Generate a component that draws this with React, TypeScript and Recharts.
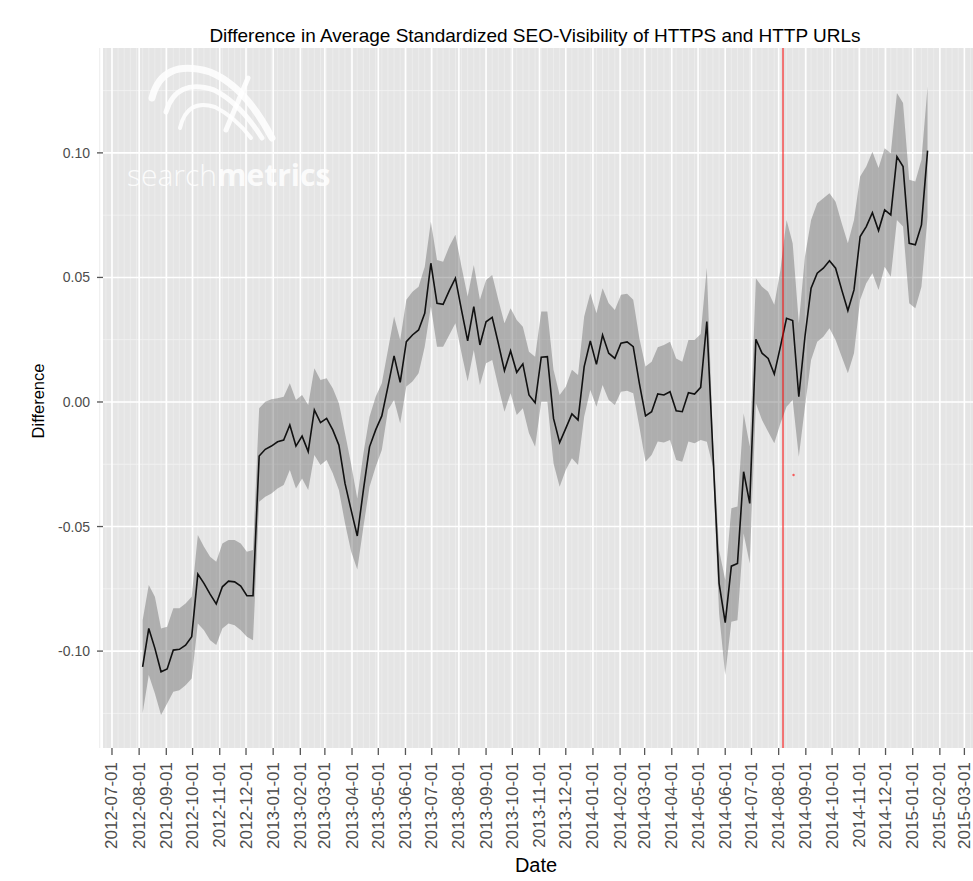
import React from 'react';
import { ComposedChart, Area, Line, XAxis, YAxis, CartesianGrid, ReferenceLine, ReferenceDot } from 'recharts';

// ---- data ----
const FIRST_WEEK = '2012-08-05';
const ANNOUNCEMENT = '2014-08-06';
const STRAY_DOT = { date: '2014-08-18', value: -0.0293 };

const MEAN = [
  -0.1063, -0.0909, -0.0989, -0.1083, -0.1072, -0.0996, -0.0993, -0.0976, -0.0942, -0.0691,
  -0.0728, -0.0771, -0.0811, -0.0742, -0.0719, -0.0722, -0.0739, -0.0778, -0.0778, -0.0217,
  -0.0190, -0.0177, -0.0160, -0.0153, -0.0092, -0.0177, -0.0137, -0.0199, -0.0032, -0.0083,
  -0.0066, -0.0112, -0.0173, -0.0327, -0.0434, -0.0538, -0.0353, -0.0180, -0.0112, -0.0056,
  0.0062, 0.0185, 0.0079, 0.0242, 0.0269, 0.0289, 0.0356, 0.0557, 0.0396, 0.0392,
  0.0447, 0.0497, 0.0369, 0.0245, 0.0383, 0.0229, 0.0322, 0.0340, 0.0236, 0.0126,
  0.0205, 0.0119, 0.0153, 0.0028, -0.0003, 0.0180, 0.0182, -0.0066, -0.0163, -0.0106,
  -0.0048, -0.0072, 0.0142, 0.0245, 0.0151, 0.0269, 0.0196, 0.0175, 0.0236, 0.0241,
  0.0222, 0.0075, -0.0056, -0.0039, 0.0032, 0.0028, 0.0041, -0.0035, -0.0039, 0.0037,
  0.0032, 0.0059, 0.0323, -0.0206, -0.0728, -0.0886, -0.0659, -0.0648, -0.0280, -0.0407,
  0.0252, 0.0196, 0.0175, 0.0112, 0.0222, 0.0336, 0.0327, 0.0021, 0.0262, 0.0457,
  0.0517, 0.0537, 0.0567, 0.0537, 0.0450, 0.0367, 0.0450, 0.0664, 0.0704, 0.0760,
  0.0688, 0.0771, 0.0751, 0.0985, 0.0945, 0.0637, 0.0631, 0.0711, 0.1009,
];
const UPPER = [
  -0.0876, -0.0735, -0.0782, -0.0909, -0.0902, -0.0828, -0.0828, -0.0809, -0.0782, -0.0534,
  -0.0581, -0.0621, -0.0641, -0.0568, -0.0554, -0.0554, -0.0568, -0.0601, -0.0594, -0.0025,
  0.0001, 0.0011, 0.0015, 0.0021, 0.0075, 0.0008, 0.0028, -0.0012, 0.0135, 0.0088,
  0.0095, 0.0055, -0.0005, -0.0125, -0.0250, -0.0387, -0.0206, -0.0059, 0.0021, 0.0075,
  0.0209, 0.0343, 0.0249, 0.0410, 0.0443, 0.0463, 0.0543, 0.0724, 0.0570, 0.0563,
  0.0624, 0.0671, 0.0543, 0.0423, 0.0550, 0.0410, 0.0490, 0.0510, 0.0410, 0.0316,
  0.0376, 0.0329, 0.0302, 0.0202, 0.0182, 0.0363, 0.0363, 0.0129, 0.0028, 0.0061,
  0.0129, 0.0108, 0.0343, 0.0436, 0.0356, 0.0457, 0.0396, 0.0369, 0.0430, 0.0434,
  0.0410, 0.0256, 0.0142, 0.0162, 0.0220, 0.0229, 0.0242, 0.0175, 0.0162, 0.0249,
  0.0249, 0.0273, 0.0540, -0.0150, -0.0595, -0.0715, -0.0427, -0.0420, -0.0045, -0.0179,
  0.0497, 0.0463, 0.0443, 0.0390, 0.0530, 0.0731, 0.0637, 0.0316, 0.0584, 0.0731,
  0.0798, 0.0818, 0.0838, 0.0804, 0.0718, 0.0637, 0.0731, 0.0905, 0.0945, 0.1005,
  0.0939, 0.1019, 0.0999, 0.1240, 0.1200, 0.0892, 0.0885, 0.0972, 0.1266,
];
const LOWER = [
  -0.1250, -0.1096, -0.1170, -0.1257, -0.1210, -0.1163, -0.1157, -0.1137, -0.1110, -0.0889,
  -0.0916, -0.0956, -0.0976, -0.0909, -0.0889, -0.0896, -0.0916, -0.0942, -0.0956, -0.0400,
  -0.0380, -0.0367, -0.0347, -0.0333, -0.0273, -0.0347, -0.0307, -0.0353, -0.0213, -0.0253,
  -0.0233, -0.0286, -0.0353, -0.0487, -0.0600, -0.0672, -0.0501, -0.0340, -0.0260, -0.0193,
  -0.0032, 0.0008, -0.0086, 0.0062, 0.0082, 0.0115, 0.0222, 0.0383, 0.0222, 0.0222,
  0.0269, 0.0316, 0.0196, 0.0082, 0.0209, 0.0068, 0.0155, 0.0169, 0.0062, -0.0039,
  0.0035, -0.0052, -0.0025, -0.0126, -0.0180, 0.0001, 0.0001, -0.0246, -0.0340, -0.0273,
  -0.0226, -0.0253, -0.0059, 0.0048, -0.0019, 0.0068, 0.0008, -0.0012, 0.0041, 0.0045,
  0.0035, -0.0099, -0.0240, -0.0213, -0.0159, -0.0163, -0.0153, -0.0233, -0.0240, -0.0159,
  -0.0166, -0.0153, -0.0160, -0.0260, -0.0849, -0.1096, -0.0882, -0.0876, -0.0528, -0.0648,
  -0.0005, -0.0072, -0.0119, -0.0166, -0.0086, -0.0019, 0.0008, -0.0220, -0.0019, 0.0169,
  0.0242, 0.0262, 0.0296, 0.0249, 0.0182, 0.0115, 0.0196, 0.0410, 0.0477, 0.0517,
  0.0450, 0.0543, 0.0503, 0.0731, 0.0704, 0.0396, 0.0376, 0.0463, 0.0744,
];

const MONTH_TICKS = [
  '2012-07-01', '2012-08-01', '2012-09-01', '2012-10-01', '2012-11-01', '2012-12-01',
  '2013-01-01', '2013-02-01', '2013-03-01', '2013-04-01', '2013-05-01', '2013-06-01',
  '2013-07-01', '2013-08-01', '2013-09-01', '2013-10-01', '2013-11-01', '2013-12-01',
  '2014-01-01', '2014-02-01', '2014-03-01', '2014-04-01', '2014-05-01', '2014-06-01',
  '2014-07-01', '2014-08-01', '2014-09-01', '2014-10-01', '2014-11-01', '2014-12-01',
  '2015-01-01', '2015-02-01', '2015-03-01',
];
const Y_TICKS = [-0.1, -0.05, 0, 0.05, 0.1];
const Y_MINOR = [-0.125, -0.075, -0.025, 0.025, 0.075, 0.125];
const X_DOMAIN = ['2012-06-20T18:00:00Z', '2015-03-10T20:00:00Z'];
const Y_DOMAIN = [-0.1389, 0.1421];

const TITLE = 'Difference in Average Standardized SEO-Visibility of HTTPS and HTTP URLs';
const X_LABEL = 'Date';
const Y_LABEL = 'Difference';

// ---- derived ----
const DAY = 86400000;
const ts = (s: string) => Date.parse(s.length === 10 ? s + 'T00:00:00Z' : s);
const start = ts(FIRST_WEEK);
const data = MEAN.map((m, i) => ({ t: start + i * 7 * DAY, mean: m, band: [LOWER[i], UPPER[i]] }));
const weekLines: number[] = [];
for (let t = start - 7 * DAY * 7; t < ts(X_DOMAIN[1]); t += 7 * DAY) weekLines.push(t);
const monthVals = MONTH_TICKS.map(ts);

const FONT = '"Liberation Sans", Arial, Helvetica, sans-serif';

const fmtDate = (v: number) => {
  const d = new Date(v);
  const mm = String(d.getUTCMonth() + 1).padStart(2, '0');
  return `${d.getUTCFullYear()}-${mm}-01`;
};

const XTick = (props: any) => {
  const { x, y, payload } = props;
  return (
    <text
      transform={`translate(${x},${y}) rotate(-90)`}
      textAnchor="end"
      dominantBaseline="central"
      fontSize={17}
      fill="#4d4d4d"
      fontFamily={FONT}
    >
      {fmtDate(payload.value)}
    </text>
  );
};

export default function App() {
  return (
    <div style={{ position: 'absolute', left: 0, top: 0, width: 973, height: 881, background: '#fff' }}>
      <ComposedChart
        width={973}
        height={881}
        data={data}
        margin={{ top: 48, right: 0, bottom: 0, left: 0 }}
        style={{ fontFamily: FONT }}
      >
        <CartesianGrid fill="#e5e5e5" horizontal={false} verticalValues={weekLines} stroke="#ececec" strokeWidth={1} />
        <CartesianGrid vertical={false} horizontalValues={Y_MINOR} stroke="#f2f2f2" strokeWidth={0.9} />
        <CartesianGrid horizontalValues={Y_TICKS} verticalValues={monthVals} stroke="#ffffff" strokeWidth={1.6} />
        <XAxis
          dataKey="t"
          type="number"
          scale="linear"
          domain={X_DOMAIN.map(ts)}
          ticks={monthVals}
          interval={0}
          allowDataOverflow
          height={133}
          axisLine={false}
          tickSize={7}
          tickMargin={7}
          tickLine={{ stroke: '#555', strokeWidth: 1.3 }}
          tick={<XTick />}
        />
        <YAxis
          type="number"
          domain={Y_DOMAIN}
          ticks={Y_TICKS}
          allowDataOverflow
          width={103}
          axisLine={false}
          tickSize={6}
          tickMargin={7}
          tickLine={{ stroke: '#555', strokeWidth: 1.3 }}
          tick={{ fontSize: 14, fill: '#4d4d4d', fontFamily: FONT }}
          tickFormatter={(v: number) => v.toFixed(2)}
        />
        <Area
          dataKey="band"
          type="linear"
          stroke="none"
          fill="#555555"
          fillOpacity={0.38}
          isAnimationActive={false}
        />
        <Line
          dataKey="mean"
          type="linear"
          stroke="#111111"
          strokeWidth={1.6}
          dot={false}
          isAnimationActive={false}
        />
        <ReferenceLine x={ts(ANNOUNCEMENT)} stroke="#ff0000" strokeOpacity={0.5} strokeWidth={2} />
        <ReferenceDot x={ts(STRAY_DOT.date)} y={STRAY_DOT.value} r={1.2} fill="#ff0000" fillOpacity={0.6} stroke="none" />
      </ComposedChart>
      <svg
        width={973}
        height={881}
        style={{ position: 'absolute', left: 0, top: 0, pointerEvents: 'none' }}
      >
        <g fill="none" stroke="#ffffff" strokeOpacity={0.85} strokeLinecap="round">
          <path d="M152,98 Q162,58 210,72 Q245,86 272,138" strokeWidth={7} />
          <path d="M166,112 Q176,78 214,90 Q240,103 262,138" strokeWidth={5} />
          <path d="M180,128 Q187,98 215,107 Q235,117 251,138" strokeWidth={4} />
          <path d="M248,78 L226,130" strokeWidth={5} />
        </g>
        <text x={127} y={186} fontSize={30} fill="#ffffff" fillOpacity={0.85} fontFamily='"Open Sans", Lato, sans-serif'>
          <tspan fontWeight={300}>search</tspan>
          <tspan fontWeight={700}>metrics</tspan>
        </text>
        <text x={535} y={42} textAnchor="middle" fontSize={19} fill="#000" fontFamily={FONT}>
          {TITLE}
        </text>
        <text x={536} y={872} textAnchor="middle" fontSize={20} fill="#000" fontFamily={FONT}>
          {X_LABEL}
        </text>
        <text
          transform="translate(44,401) rotate(-90)"
          textAnchor="middle"
          fontSize={16.5}
          fill="#000"
          fontFamily={FONT}
        >
          {Y_LABEL}
        </text>
      </svg>
    </div>
  );
}
